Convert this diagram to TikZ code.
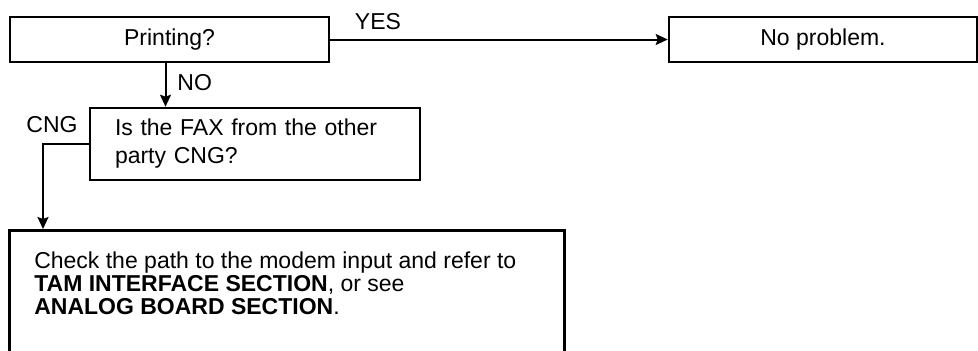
\documentclass[tikz,border=0pt]{standalone}
\usepackage{fontspec}
\setmainfont{Liberation Sans}
\usetikzlibrary{arrows.meta}
\tikzstyle{box} = [rectangle, draw=black, line width=1.3pt, inner sep=0pt, font=\fontsize{11.5}{14}\selectfont]
\tikzstyle{questionbox} = [box, minimum width=159.5pt, minimum height=22.5pt, align=center]
\tikzstyle{answerbox} = [box, minimum width=154pt, minimum height=22.5pt, align=center]
\tikzstyle{cngbox} = [box, minimum width=165pt, minimum height=36pt, text width=140pt, align=left]
\tikzstyle{actionbox} = [box, anchor=north west, inner xsep=12.5pt, inner ysep=11pt, font=\fontsize{11.5}{11.5}\selectfont]
\tikzstyle{flowlabel} = [inner sep=0pt, font=\fontsize{11.5}{14}\selectfont]
\tikzstyle{flow} = [line width=1pt, -{Stealth[length=6pt, width=5.5pt, inset=1pt]}]

\begin{document}
\begin{tikzpicture}[x=0.5pt, y=-0.5pt]
\useasboundingbox (0, 0) rectangle (978, 350);
\clip (0, 0) rectangle (978, 350);
% Decision and result boxes
\node[questionbox] (printing) at (169.5, 39.5) {Printing?};
\node[answerbox] (noproblem) at (823, 39.5) {No problem.};
\node[cngbox] (cngq) at (255, 144) {Is the FAX from the other\\party CNG?};
% the box runs on below the page edge
\node[actionbox] (check) at (8, 229) {\parbox[t][120pt][t]{252.5pt}{\raggedright
  Check the path to the modem input and refer to\\
  \textbf{TAM INTERFACE SECTION}, or see\\
  \textbf{ANALOG BOARD SECTION}.}};
% Branch labels
\node[flowlabel] (yes) at (378, 22) {YES};
\node[flowlabel, anchor=west] (no) at (177, 83) {NO};
\node[flowlabel] (cng) at (52, 125) {CNG};
% Columns of the vertical connectors
\coordinate (nox) at (165.5, 0);
\coordinate (cngx) at (43, 0);
% Connectors
\draw[flow] (printing) -- (noproblem);
\draw[flow] (printing.south -| nox) -- (cngq.north -| nox);
\draw[flow] (cngq.west) -| (check.north -| cngx);
\end{tikzpicture}
\end{document}
